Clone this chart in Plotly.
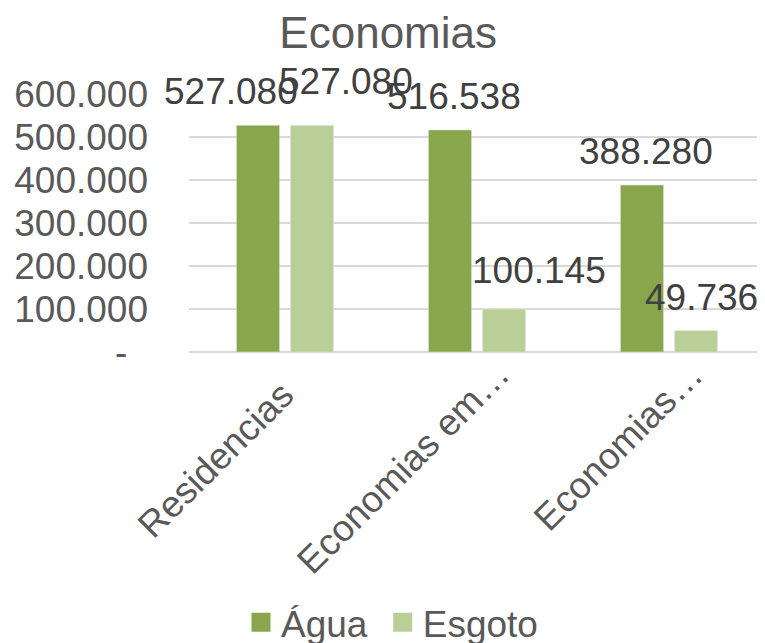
import plotly.graph_objects as go

categories = ["Residencias", "Economias em…", "Economias…"]
agua = [527080, 516538, 388280]
esgoto = [527080, 100145, 49736]
series_names = ["Água", "Esgoto"]
tick_vals = [0, 100000, 200000, 300000, 400000, 500000, 600000]
tick_text = ["-\u00a0\u00a0", "100.000", "200.000", "300.000", "400.000", "500.000", "600.000"]

# label placement styles (pixel shifts relative to category centre)
agua_dx = [-54, -23, -23]
agua_dy = [11, 11, 11]
esgoto_dx = [61, 62, 32]
esgoto_dy = [21, 16, 11]
cat_dx = [20, 43, 44]
cat_dy = [-19, 2, 1]

DARK = "#8AA64C"
LIGHT = "#B9CF97"
FONT = "Liberation Sans, Arial, sans-serif"
FS = 37
CAT_FS = 37


def fmt(v):
    return f"{v:,}".replace(",", ".")


fig = go.Figure()
fig.add_trace(go.Bar(name=series_names[0], x=categories, y=agua, marker=dict(color=DARK), showlegend=False))
fig.add_trace(go.Bar(name=series_names[1], x=categories, y=esgoto, marker=dict(color=LIGHT), showlegend=False))
# legend entries (square swatches)
fig.add_trace(go.Scatter(name=series_names[0] + "\u00a0", x=[categories[0]], y=[None], mode="markers",
                         marker=dict(symbol="square", size=16, color=DARK,
                                     line=dict(color=DARK, width=3))))
fig.add_trace(go.Scatter(name=series_names[1], x=[categories[0]], y=[None], mode="markers",
                         marker=dict(symbol="square", size=16, color=LIGHT,
                                     line=dict(color=LIGHT, width=3))))

annotations = []
for i, c in enumerate(categories):
    annotations.append(dict(x=c, y=agua[i], xref="x", yref="y", text=fmt(agua[i]),
                            showarrow=False, xanchor="center", yanchor="bottom",
                            xshift=agua_dx[i], yshift=agua_dy[i],
                            font=dict(family=FONT, size=FS, color="#404040")))
    annotations.append(dict(x=c, y=esgoto[i], xref="x", yref="y", text=fmt(esgoto[i]),
                            showarrow=False, xanchor="center", yanchor="bottom",
                            xshift=esgoto_dx[i], yshift=esgoto_dy[i],
                            font=dict(family=FONT, size=FS, color="#404040")))
    annotations.append(dict(x=c, y=0, xref="x", yref="y", text=c, textangle=-45,
                            showarrow=False, xanchor="right", yanchor="top",
                            xshift=cat_dx[i], yshift=cat_dy[i],
                            font=dict(family=FONT, size=CAT_FS, color="#595959")))

fig.update_layout(
    width=765, height=643,
    margin=dict(l=181, r=8, t=86, b=299),
    paper_bgcolor="white", plot_bgcolor="white",
    barmode="group", bargap=0.4375, bargroupgap=0.2,
    font=dict(family=FONT, size=FS, color="#595959"),
    title=dict(text="Economias", x=0.497, xref="container", xanchor="center",
               y=1 - 25 / 643, yref="container", yanchor="middle",
               font=dict(family=FONT, size=44, color="#595959")),
    legend=dict(orientation="h", xref="container", x=233 / 765, xanchor="left",
                yref="container", y=0.044, yanchor="middle",
                font=dict(family=FONT, size=FS, color="#595959"),
                bgcolor="rgba(0,0,0,0)"),
    annotations=annotations,
)
fig.update_yaxes(range=[0, 600000], tickvals=tick_vals, ticktext=tick_text,
                 showgrid=True, gridcolor="#D9D9D9", gridwidth=1.5,
                 zeroline=True, zerolinecolor="#D9D9D9", zerolinewidth=1.5,
                 ticklabelstandoff=40, automargin=False,
                 tickfont=dict(family=FONT, size=FS, color="#595959"))
fig.update_xaxes(type="category", range=[-0.5, 2.5], showticklabels=False,
                 showline=False, automargin=False)

fig.write_html("out.html")
